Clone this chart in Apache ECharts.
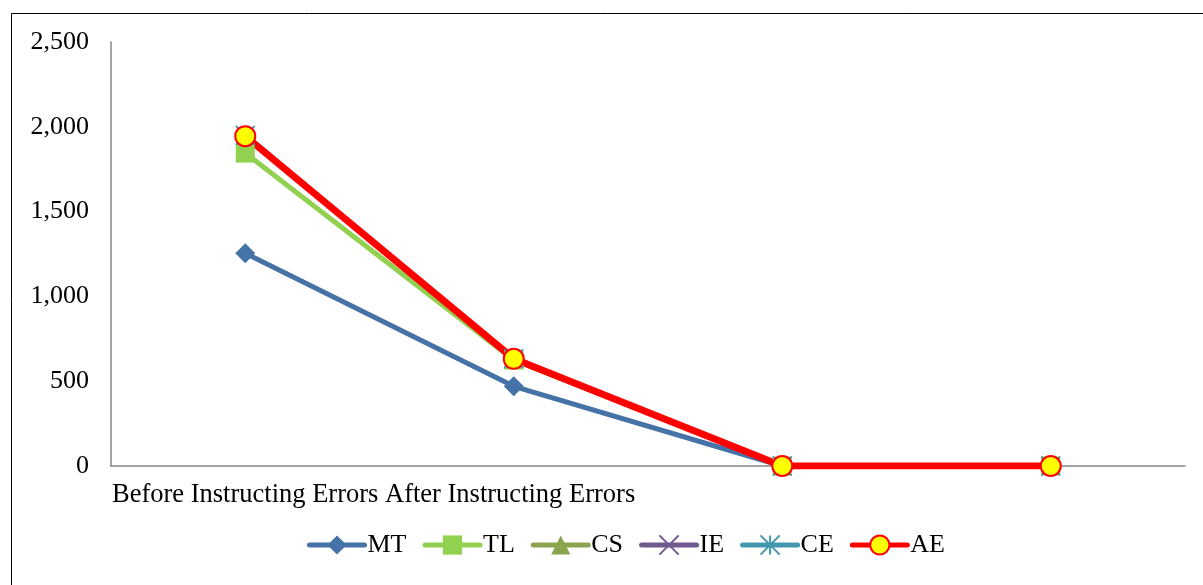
<!DOCTYPE html>
<html>
<head>
<meta charset="utf-8">
<script src="https://cdn.jsdelivr.net/npm/echarts@6/dist/echarts.min.js"></script>
<style>html,body{margin:0;padding:0;background:#fff;}#c{width:1203px;height:585px;}</style>
</head>
<body>
<div id="c"></div>
<script>
var categories = ['1', '2', '3', '4'];
var xLabelText = 'Before Instructing Errors After Instructing Errors';
var yTicks = [0, 500, 1000, 1500, 2000, 2500];
var MT = [1255, 470, 0, 0];
var TL = [1845, 625, 0, 0];
var CS = [1945, 632, 0, 0];
var IE = [1950, 632, 0, 0];
var CE = [1950, 632, 0, 0];
var AE = [1945, 632, 0, 0];

var serif = '"Liberation Serif", "Times New Roman", serif';
var chart = echarts.init(document.getElementById('c'), null, {renderer: 'canvas'});
function mk(name, data, color, symbol, size, width, extra) {
  var s = {
    name: name, type: 'line', data: data, symbol: symbol, symbolSize: size,
    lineStyle: {color: color, width: width, cap: 'round'},
    itemStyle: {color: color},
    showAllSymbol: true, animation: false
  };
  if (extra) Object.assign(s, extra);
  return s;
}
chart.setOption({
  animation: false,
  grid: {left: 111, right: 18, top: 42, bottom: 119, containLabel: false},
  xAxis: {
    type: 'category', data: categories, boundaryGap: true,
    axisLine: {lineStyle: {color: '#868686', width: 1.5}},
    axisTick: {show: false}, axisLabel: {show: false}, splitLine: {show: false}
  },
  yAxis: {
    type: 'value', min: 0, max: 2500, interval: 500,
    axisLine: {show: true, lineStyle: {color: '#868686', width: 1.5}},
    axisTick: {show: false}, splitLine: {show: false},
    axisLabel: {
      margin: 22, color: '#000', fontFamily: serif, fontSize: 26,
      formatter: function (v) { return v.toLocaleString('en-US'); }
    }
  },
  legend: {
    top: 527, left: 302, itemWidth: 55, itemHeight: 24, itemGap: 16,
    textStyle: {fontFamily: serif, fontSize: 26, color: '#000', padding: [0, 0, 0, -2]},
    lineStyle: {width: 5, cap: 'round'},
    data: ['MT', 'TL', 'CS', 'IE', 'CE', 'AE']
  },
  graphic: [
    {type: 'rect', shape: {x: 11.5, y: 13.5, width: 1300, height: 700},
     style: {fill: 'none', stroke: '#000', lineWidth: 1}, silent: true},
    {type: 'text', left: 112, top: 482,
     style: {text: xLabelText, font: '26.5px ' + serif, fill: '#000'}}
  ],
  series: [
    mk('MT', MT, '#4572a7', 'diamond', 20, 5),
    mk('TL', TL, '#92d050', 'rect', 19, 5),
    mk('CS', CS, '#89a54e', 'triangle', 17, 5),
    mk('IE', IE, '#71588f', 'path://M0,0L10,10M10,0L0,10', 18, 5,
       {itemStyle: {color: 'none', borderColor: '#71588f', borderWidth: 1.5}}),
    mk('CE', CE, '#4198af', 'path://M0,0L10,10M10,0L0,10M5,0L5,10', 19, 5,
       {itemStyle: {color: 'none', borderColor: '#4198af', borderWidth: 1.5}}),
    mk('AE', AE, '#ff0000', 'circle', 20, 7,
       {itemStyle: {color: '#ffff00', borderColor: '#ff0000', borderWidth: 2}})
  ]
});
</script>
</body>
</html>
